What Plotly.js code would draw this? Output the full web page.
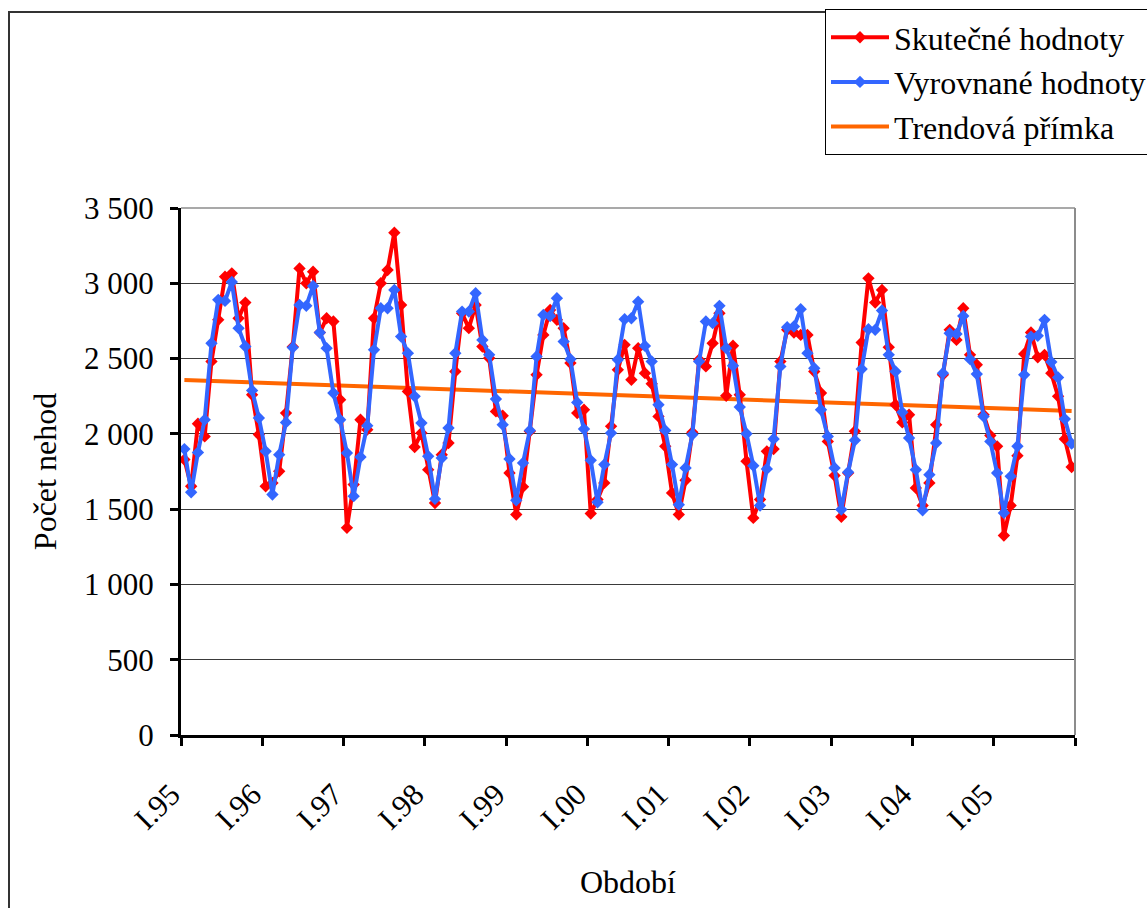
<!DOCTYPE html>
<html>
<head>
<meta charset="utf-8">
<script src="https://cdn.plot.ly/plotly-3.0.1.min.js"></script>
<style>
  html, body { margin: 0; padding: 0; background: #fff; }
  #chart { width: 1147px; height: 908px; }
</style>
</head>
<body>
<div id="chart"></div>
<script>
// ---- data ----
const monthNames = ["I","II","III","IV","V","VI","VII","VIII","IX","X","XI","XII"];
const years = ["95","96","97","98","99","00","01","02","03","04","05"];
const categories = [];
years.forEach(y => monthNames.forEach(m => categories.push(m + "." + y)));

const actualValues = [
  1829,1652,2067,1983,2481,2757,3044,3066,2768,2872,2260,1995,
  1652,1674,1751,2138,2579,3099,3000,3077,2673,2768,2746,2227,
  1376,1663,2094,2028,2768,3000,3088,3336,2856,2282,1913,2006,
  1762,1541,1862,1939,2414,2801,2702,2856,2580,2503,2149,2120,
  1740,1464,1648,2017,2392,2657,2823,2757,2702,2470,2138,2160,
  1471,1564,1674,2050,2425,2591,2359,2569,2403,2333,2116,1917,
  1608,1464,1692,2010,2492,2448,2602,2801,2253,2585,2260,1818,
  1442,1564,1884,1899,2481,2691,2673,2657,2657,2414,2271,1950,
  1723,1449,1740,2017,2607,3033,2872,2956,2576,2193,2076,2127,
  1641,1524,1674,2061,2392,2691,2624,2834,2525,2459,2127,1989,
  1917,1325,1524,1855,2531,2673,2509,2525,2403,2249,1966,1780
];

const fittedValues = [
  1899,1612,1877,2094,2602,2890,2883,3009,2702,2580,2288,2105,
  1884,1597,1862,2076,2573,2856,2850,2982,2673,2569,2271,2094,
  1873,1586,1846,2054,2558,2834,2834,2956,2646,2536,2249,2072,
  1851,1568,1840,2039,2536,2812,2812,2934,2624,2525,2231,2061,
  1833,1559,1807,2023,2514,2790,2783,2901,2613,2496,2209,2032,
  1824,1546,1796,2006,2492,2761,2768,2878,2584,2481,2193,2023,
  1796,1530,1773,1995,2481,2746,2735,2850,2569,2452,2178,2001,
  1789,1524,1767,1966,2448,2708,2713,2828,2536,2436,2160,1983,
  1773,1497,1745,1957,2430,2695,2691,2819,2525,2414,2143,1972,
  1762,1493,1729,1939,2403,2668,2664,2783,2496,2397,2116,1950,
  1740,1475,1718,1918,2392,2646,2651,2757,2478,2374,2098,1935
];

// trend line endpoints (first and last month)
const trendCategories = ["I.95", "XII.05"];
const trendValues = [2357, 2152];

const yearTickLabels = ["I.95","I.96","I.97","I.98","I.99","I.00","I.01","I.02","I.03","I.04","I.05"];
const seriesNames = ["Skutečné hodnoty", "Vyrovnané hodnoty", "Trendová přímka"];

// ---- drawing ----
const idx = c => categories.indexOf(c);
const xIdx = categories.map((c, i) => i);
const tickPos = [];
const tickText = [];
for (let k = 0; k <= yearTickLabels.length; k++) {
  tickPos.push(k * 12 - 0.5);
  tickText.push(k < yearTickLabels.length ? yearTickLabels[k] : "");
}

const FONT = "Liberation Serif, Times New Roman, serif";

const traces = [
  {
    x: trendCategories.map(idx), y: trendValues, name: seriesNames[2],
    type: "scatter", mode: "lines",
    line: {color: "#FF6600", width: 4},
    legendrank: 3, hoverinfo: "skip"
  },
  {
    x: xIdx, y: actualValues, name: seriesNames[0],
    type: "scatter", mode: "lines+markers",
    line: {color: "#FF0000", width: 4},
    marker: {symbol: "diamond", size: 9.5, color: "#FF0000"},
    legendrank: 1
  },
  {
    x: xIdx, y: fittedValues, name: seriesNames[1],
    type: "scatter", mode: "lines+markers",
    line: {color: "#3366FF", width: 4},
    marker: {symbol: "diamond", size: 9.5, color: "#3366FF"},
    legendrank: 2
  }
];

const L = 181, R = 1075, T = 208, B = 735, W = 1147, H = 908;
const px = v => (v - L) / (R - L);
const py = v => (B - v) / (B - T);

const layout = {
  width: W, height: H,
  paper_bgcolor: "#fff", plot_bgcolor: "#fff",
  separators: ", ",
  font: {family: FONT, size: 32, color: "#000"},
  margin: {l: L, r: W - R, t: T, b: H - B, pad: 0, autoexpand: false},
  showlegend: true,
  legend: {
    x: px(825), y: py(9), xanchor: "left", yanchor: "top",
    bgcolor: "#fff", bordercolor: "#000", borderwidth: 1,
    font: {family: FONT, size: 32, color: "#000"},
    itemwidth: 58, traceorder: "normal", tracegroupgap: 2
  },
  xaxis: {
    type: "linear", range: [-0.5, 131.5],
    tickmode: "array", tickvals: tickPos, ticktext: tickText,
    tickangle: -45, ticks: "outside", ticklen: 8, tickwidth: 3, tickcolor: "#000",
    ticklabelstandoff: 18, ticklabelshift: -10,
    showline: true, linecolor: "#000", linewidth: 3,
    showgrid: false, zeroline: false,
    tickfont: {family: FONT, size: 31, color: "#000"},
    title: {text: "Období", font: {family: FONT, size: 32, color: "#000"}, standoff: 36},
    automargin: false
  },
  yaxis: {
    range: [0, 3500], tickmode: "linear", tick0: 0, dtick: 500,
    separatethousands: true,
    ticks: "outside", ticklen: 8, tickwidth: 3, tickcolor: "#000",
    showline: true, linecolor: "#000", linewidth: 3,
    showgrid: true, gridcolor: "#3a3a3a", gridwidth: 1,
    zeroline: false,
    tickfont: {family: FONT, size: 31, color: "#000"},
    ticklabelstandoff: 10,
    title: {text: "Počet nehod", font: {family: FONT, size: 32, color: "#000"}, standoff: 18},
    automargin: false
  },
  shapes: [
    {type: "line", xref: "paper", yref: "paper", x0: 0, x1: 1, y0: 1, y1: 1,
     line: {color: "#8c8c8c", width: 1.5}},
    {type: "line", xref: "paper", yref: "paper", x0: 1, x1: 1, y0: 0, y1: 1,
     line: {color: "#8c8c8c", width: 2}},
    {type: "rect", xref: "paper", yref: "paper",
     x0: px(9), x1: px(W + 20), y0: py(12), y1: py(H + 20),
     line: {color: "#333", width: 2}, fillcolor: "rgba(0,0,0,0)", layer: "below"}
  ]
};

Plotly.newPlot("chart", traces, layout, {displayModeBar: false, staticPlot: true});
</script>
</body>
</html>
